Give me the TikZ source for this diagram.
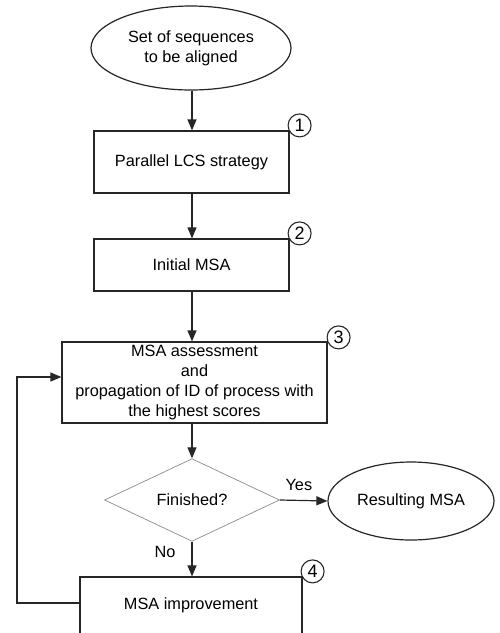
\documentclass[tikz,border=0pt]{standalone}
\usepackage{fontspec}
\setmainfont{Liberation Sans}
\usetikzlibrary{shapes.geometric,arrows.meta,calc}
\begin{document}
\begin{tikzpicture}[x=1pt,y=-1pt,
  every node/.style={font=\fontsize{16.3}{20}\selectfont},
  box/.style={draw=black!85, line width=1.2pt, rectangle, inner sep=0pt, align=center},
  oval/.style={draw=black!85, line width=1.2pt, ellipse, inner sep=0pt, align=center},
  num/.style={draw=black!85, line width=1.1pt, circle, minimum size=23pt, inner sep=0pt, font=\fontsize{18}{20}\selectfont},
  dec/.style={draw=black!45, line width=0.7pt, diamond, inner sep=0pt, minimum width=175pt, minimum height=70pt},
  arr/.style={draw=black!85, line width=1.2pt, -{Triangle[length=11pt,width=9pt]}},
  lbl/.style={inner sep=0pt}
]
\useasboundingbox (0,0) rectangle (500,633);
\clip (0,0) rectangle (500,633);
\fill[white] (0,0) rectangle (500,633);

\node[oval, minimum width=200pt, minimum height=84pt] (start) at (191,48) {Set of sequences\\to be aligned};
\node[box, minimum width=195pt, minimum height=62pt] (b1) at (191.5,162) {Parallel LCS strategy};
\node[box, minimum width=195pt, minimum height=52pt] (b2) at (191.5,265) {Initial MSA};
\node[box, minimum width=265pt, minimum height=81pt] (b3) at (194.5,382.5) {MSA assessment\\and\\propagation of ID of process with\\the highest scores};
\node[dec] (d) at (192,500) {Finished?};
\node[oval, minimum width=166pt, minimum height=78pt] (res) at (411,501) {Resulting MSA};
\node[box, minimum width=222pt, minimum height=62pt] (b4) at (191,608) {};
\node[lbl] (b4t) at (191,605) {MSA improvement};

\node[num] (n1) at ($(b1.north east)+(10,-5)$) {1};
\node[num] (n2) at ($(b2.north east)+(10,-5)$) {2};
\node[num] (n3) at ($(b3.north east)+(11,-4)$) {3};
\node[num] (n4) at ($(b4.north east)+(10,-5)$) {4};

\draw[arr] (start.south -| d.north) -- (b1.north -| d.north);
\draw[arr] (b1.south -| d.north) -- (b2.north -| d.north);
\draw[arr] (b2.south -| d.north) -- (b3.north -| d.north);
\draw[arr] (b3.south -| d.north) -- (d.north);
\draw[arr] (d.east) -- node[lbl, above=9pt, pos=0.4] {Yes} (res.west);
\draw[arr] (d.south) -- node[lbl, pos=0.3, left=16pt] {No} (b4.north -| d.north);
\coordinate (fb) at (17,603);
\draw[arr] (b4.west |- fb) -- (fb) -- (fb |- 0,377) -- (b3.west |- 0,377);
\end{tikzpicture}
\end{document}
